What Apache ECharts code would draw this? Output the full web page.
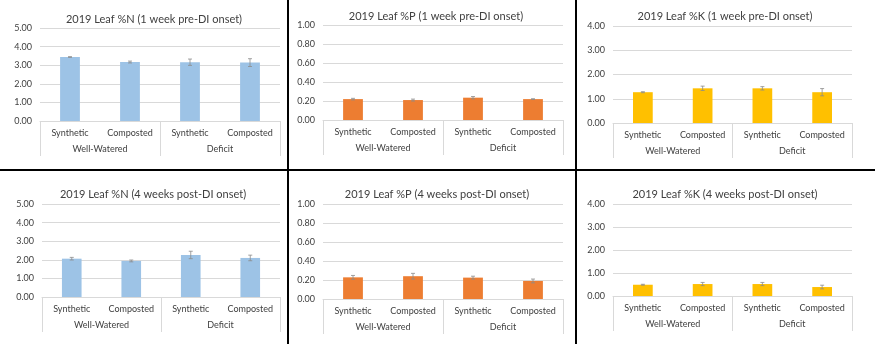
<!DOCTYPE html>
<html>
<head>
<meta charset="utf-8">
<script src="https://cdn.jsdelivr.net/npm/echarts@6/dist/echarts.min.js"></script>
<style>
  html, body { margin: 0; padding: 0; background: #fff; }
  #chart { width: 875px; height: 344px; }
</style>
</head>
<body>
<div id="chart"></div>
<script>
// Treatment categories (inner level) and irrigation groups (outer level)
const categories = ['Synthetic', 'Composted', 'Synthetic', 'Composted'];
const groups = ['Well-Watered', 'Deficit'];

const titles = [
  '2019 Leaf %N (1 week pre-DI onset)',
  '2019 Leaf %P (1 week pre-DI onset)',
  '2019 Leaf %K (1 week pre-DI onset)',
  '2019 Leaf %N (4 weeks post-DI onset)',
  '2019 Leaf %P (4 weeks post-DI onset)',
  '2019 Leaf %K (4 weeks post-DI onset)'
];

// Mean leaf nutrient concentrations (%) and standard errors
const nPre = [3.44, 3.17, 3.16, 3.14];
const nPreErr = [0.02, 0.05, 0.17, 0.21];
const pPre = [0.22, 0.21, 0.235, 0.22];
const pPreErr = [0.008, 0.01, 0.012, 0.004];
const kPre = [1.27, 1.43, 1.43, 1.27];
const kPreErr = [0.02, 0.09, 0.07, 0.15];

const nPost = [2.06, 1.94, 2.26, 2.10];
const nPostErr = [0.07, 0.05, 0.20, 0.15];
const pPost = [0.228, 0.24, 0.225, 0.19];
const pPostErr = [0.02, 0.03, 0.015, 0.02];
const kPost = [0.49, 0.52, 0.52, 0.39];
const kPostErr = [0.02, 0.07, 0.07, 0.08];

// Value axis ranges
const yMaxN = 5, yStepN = 1;
const yMaxP = 1, yStepP = 0.2;
const yMaxK = 4, yStepK = 1;

const colN = '#9DC3E6', colP = '#ED7D31', colK = '#FFC000';

const FONT = 'Lato, "Open Sans", sans-serif';
const TXT = '#404040';
const GRID = '#D9D9D9';

const panels = [
  { title: titles[0], vals: nPre,  errs: nPreErr,  max: yMaxN, step: yStepN, color: colN,
    grid: { left: 40, top: 28, width: 240, height: 93 }, tx: 149, ty: 14 },
  { title: titles[1], vals: pPre,  errs: pPreErr,  max: yMaxP, step: yStepP, color: colP,
    grid: { left: 323, top: 25, width: 240, height: 95 }, tx: 431, ty: 11 },
  { title: titles[2], vals: kPre,  errs: kPreErr,  max: yMaxK, step: yStepK, color: colK,
    grid: { left: 613, top: 26, width: 239, height: 97 }, tx: 720, ty: 11 },
  { title: titles[3], vals: nPost, errs: nPostErr, max: yMaxN, step: yStepN, color: colN,
    grid: { left: 42, top: 204, width: 238, height: 93 }, tx: 148, ty: 189 },
  { title: titles[4], vals: pPost, errs: pPostErr, max: yMaxP, step: yStepP, color: colP,
    grid: { left: 323, top: 204, width: 240, height: 95 }, tx: 432, ty: 189 },
  { title: titles[5], vals: kPost, errs: kPostErr, max: yMaxK, step: yStepK, color: colK,
    grid: { left: 613, top: 204, width: 239, height: 92 }, tx: 720, ty: 189 }
];

const option = {
  animation: false,
  backgroundColor: '#fff',
  textStyle: { fontFamily: FONT },
  title: [],
  grid: [],
  xAxis: [],
  yAxis: [],
  series: [],
  graphic: []
};

// Renders a capped vertical error bar at each bar top
function errorBarRenderer(params, api) {
  const x = api.value(0);
  const v = api.value(1);
  const e = api.value(2);
  const hi = api.coord([x, v + e]);
  const lo = api.coord([x, v - e]);
  const cap = 2;
  const style = { stroke: '#8C8C8C', lineWidth: 0.8 };
  return {
    type: 'group',
    children: [
      { type: 'line', shape: { x1: hi[0], y1: hi[1], x2: lo[0], y2: lo[1] }, style },
      { type: 'line', shape: { x1: hi[0] - cap, y1: hi[1], x2: hi[0] + cap, y2: hi[1] }, style },
      { type: 'line', shape: { x1: lo[0] - cap, y1: lo[1], x2: lo[0] + cap, y2: lo[1] }, style }
    ]
  };
}

panels.forEach((p, i) => {
  option.title.push({
    text: p.title, left: p.tx, top: p.ty, textAlign: 'center', textVerticalAlign: 'middle',
    textStyle: { fontFamily: FONT, fontSize: 11, fontWeight: 'normal', color: TXT }
  });
  option.grid.push(Object.assign({ containLabel: false }, p.grid));

  // inner category axis (treatments)
  option.xAxis.push({
    type: 'category', gridIndex: i, data: categories,
    axisLine: { lineStyle: { color: GRID, width: 1 } },
    axisTick: { show: false },
    axisLabel: { color: TXT, fontSize: 9, fontFamily: FONT, margin: 8, interval: 0 }
  });
  // outer category axis (irrigation groups) with long separator ticks
  option.xAxis.push({
    type: 'category', gridIndex: i, data: groups, position: 'bottom',
    axisLine: { show: false },
    axisTick: { show: true, length: 35, lineStyle: { color: GRID, width: 1 } },
    axisLabel: { color: TXT, fontSize: 9, fontFamily: FONT, margin: 24, interval: 0 }
  });
  option.yAxis.push({
    type: 'value', gridIndex: i, min: 0, max: p.max, interval: p.step,
    axisLine: { show: false }, axisTick: { show: false },
    splitLine: { lineStyle: { color: GRID, width: 1 } },
    axisLabel: { color: TXT, fontSize: 9, fontFamily: FONT, margin: 8,
      formatter: v => v.toFixed(2) }
  });

  option.series.push({
    type: 'bar', xAxisIndex: i * 2, yAxisIndex: i,
    data: p.vals, barWidth: '33%',
    itemStyle: { color: p.color }
  });
  option.series.push({
    type: 'custom', xAxisIndex: i * 2, yAxisIndex: i,
    renderItem: errorBarRenderer,
    data: p.vals.map((v, k) => [k, v, p.errs[k]]),
    z: 10
  });
});

// panel divider lines
option.graphic.push(
  { type: 'line', shape: { x1: 0, y1: 170, x2: 875, y2: 170 }, style: { stroke: '#000', lineWidth: 2 } },
  { type: 'line', shape: { x1: 288, y1: 0, x2: 288, y2: 344 }, style: { stroke: '#000', lineWidth: 2 } },
  { type: 'line', shape: { x1: 576, y1: 0, x2: 576, y2: 344 }, style: { stroke: '#000', lineWidth: 2 } }
);

const chart = echarts.init(document.getElementById('chart'), null, { renderer: 'canvas' });
chart.setOption(option);
</script>
</body>
</html>
